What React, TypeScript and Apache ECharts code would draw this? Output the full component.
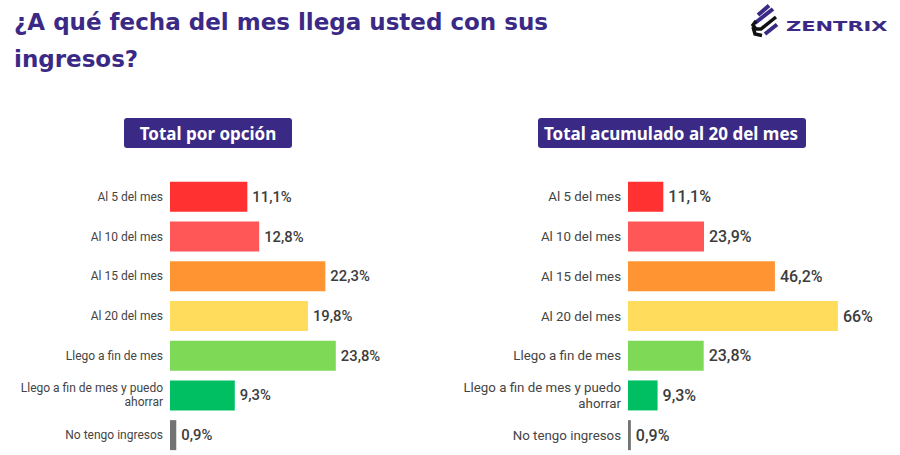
import React, { useEffect, useRef } from "react";
import * as echarts from "echarts";

const categories = [
  "Al 5 del mes",
  "Al 10 del mes",
  "Al 15 del mes",
  "Al 20 del mes",
  "Llego a fin de mes",
  "Llego a fin de mes y puedo\nahorrar",
  "No tengo ingresos",
];
const totalPorOpcion = [11.1, 12.8, 22.3, 19.8, 23.8, 9.3, 0.9];
const totalAcumulado = [11.1, 23.9, 46.2, 66, 23.8, 9.3, 0.9];
const barColors = ["#FF3131", "#FF5757", "#FF9433", "#FFDC5C", "#7ED957", "#00BF63", "#737373"];

const titleLine1 = "¿A qué fecha del mes llega usted con sus";
const titleLine2 = "ingresos?";
const panelLeftTitle = "Total por opción";
const panelRightTitle = "Total acumulado al 20 del mes";
const brand = "ZENTRIX";

const PURPLE = "#3B2A85";
const fmt = (v: number) => String(v).replace(".", ",") + "%";

export default function App() {
  const ref = useRef<HTMLDivElement>(null);
  useEffect(() => {
    if (!ref.current) return;
    const chart = echarts.init(ref.current, null, { renderer: "svg" });
    const yAxisBase = (gridIndex: number, fontSize: number, lineHeight: number) => ({
      gridIndex,
      type: "category" as const,
      data: categories,
      inverse: true,
      axisLine: { show: false },
      axisTick: { show: false },
      splitLine: { show: false },
      axisLabel: {
        margin: 7,
        fontSize,
        color: "#444444",
        fontFamily: "Roboto",
        lineHeight,
        align: "right" as const,
      },
    });
    const barSeries = (idx: number, data: number[], fontSize: number) => ({
      type: "bar" as const,
      xAxisIndex: idx,
      yAxisIndex: idx,
      data,
      barWidth: 30,
      itemStyle: { color: (p: any) => barColors[p.dataIndex] },
      label: {
        show: true,
        position: "right" as const,
        distance: 5,
        fontSize,
        fontFamily: "Roboto",
        fontWeight: 500,
        color: "#3C3C3C",
        formatter: (p: any) => fmt(p.value),
      },
    });
    chart.setOption({
      animation: false,
      backgroundColor: "#FFFFFF",
      grid: [
        { left: 170, top: 177, width: 209, height: 278 },
        { left: 628, top: 177, width: 222.6, height: 278 },
      ],
      xAxis: [
        { gridIndex: 0, type: "value", min: 0, max: 30, show: false },
        { gridIndex: 1, type: "value", min: 0, max: 70, show: false },
      ],
      yAxis: [yAxisBase(0, 12, 14), yAxisBase(1, 13.3, 15.5)],
      series: [barSeries(0, totalPorOpcion, 14.8), barSeries(1, totalAcumulado, 16)],
      graphic: [
        {
          type: "text",
          x: 14,
          y: 22,
          style: {
            text: titleLine1,
            fill: PURPLE,
            font: "bold 23px 'DejaVu Sans'",
            verticalAlign: "middle",
          },
        },
        {
          type: "text",
          x: 14,
          y: 59,
          style: {
            text: titleLine2,
            fill: PURPLE,
            font: "bold 23px 'DejaVu Sans'",
            verticalAlign: "middle",
          },
        },
        {
          type: "rect",
          shape: { x: 124, y: 118, width: 168, height: 30, r: 3 },
          style: { fill: PURPLE },
        },
        {
          type: "text",
          x: 208,
          y: 133,
          style: {
            text: panelLeftTitle,
            fill: "#FFFFFF",
            font: "bold 17px 'Noto Sans'",
            align: "center",
            verticalAlign: "middle",
          },
        },
        {
          type: "rect",
          shape: { x: 538, y: 118, width: 268, height: 30, r: 3 },
          style: { fill: PURPLE },
        },
        {
          type: "text",
          x: 671,
          y: 133,
          style: {
            text: panelRightTitle,
            fill: "#FFFFFF",
            font: "bold 17px 'Noto Sans'",
            align: "center",
            verticalAlign: "middle",
          },
        },
        // logo icon
        {
          type: "group",
          children: [
            { type: "line", shape: { x1: 758, y1: 15, x2: 769, y2: 5.5 }, style: { stroke: PURPLE, lineWidth: 4 } },
            { type: "line", shape: { x1: 755, y1: 23, x2: 773, y2: 9 }, style: { stroke: PURPLE, lineWidth: 4 } },
            { type: "polyline", shape: { points: [[776, 17], [761, 29], [756, 29], [753, 25], [756, 21]] }, style: { stroke: "#111111", lineWidth: 3.5, fill: "none" } },
            { type: "polyline", shape: { points: [[753, 27], [755, 34], [762, 35.5]] }, style: { stroke: "#111111", lineWidth: 3.5, fill: "none" } },
            { type: "line", shape: { x1: 765, y1: 34, x2: 777, y2: 24.5 }, style: { stroke: PURPLE, lineWidth: 4 } },
          ],
        },
        {
          type: "text",
          x: 786,
          y: 26,
          scaleX: 1.5,
          style: {
            text: brand,
            fill: PURPLE,
            font: "bold 14px 'DejaVu Sans'",
            verticalAlign: "middle",
          },
        },
      ],
    });
    return () => chart.dispose();
  }, []);
  return (
    <div
      ref={ref}
      style={{ position: "absolute", left: 0, top: 0, width: 900, height: 455 }}
    />
  );
}
